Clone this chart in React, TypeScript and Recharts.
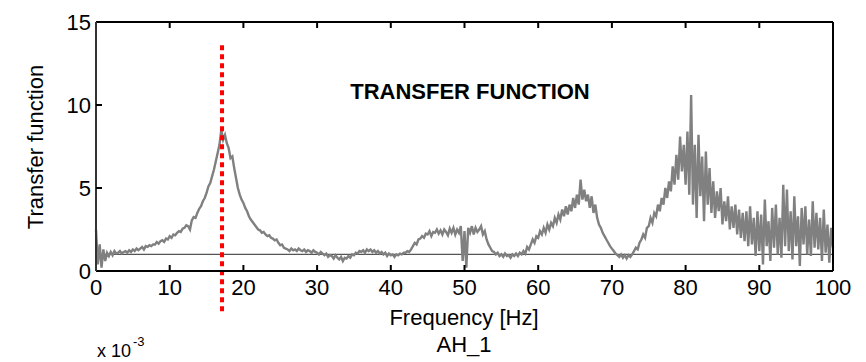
import { LineChart, Line, XAxis, YAxis, ReferenceLine } from "recharts";

const FONT = "'Liberation Sans', Arial, Helvetica, sans-serif";

// transfer function magnitude, one sample every 0.25 Hz from 0 to 100 Hz
const FREQ_STEP = 0.25;
const TF_VALUES = [
  2.5, 0.4, 1.6, 0.2, // 0
  1.3, 0.6, 1.1, 0.9,
  1.15, 0.95, 1.2, 1.05,
  1.1, 1.2, 1.05, 1.15,
  1.2, 1.1, 1.25, 1.15,
  1.3, 1.2, 1.35, 1.25, // 5
  1.35, 1.45, 1.3, 1.5,
  1.45, 1.55, 1.5, 1.6,
  1.6, 1.75, 1.65, 1.8,
  1.85, 1.75, 1.95, 1.9,
  2.1, 2.0, 2.2, 2.15, // 10
  2.3, 2.4, 2.35, 2.55,
  2.6, 2.75, 2.7, 2.5,
  3.05, 3.25, 3.2, 3.5,
  3.75, 3.9, 4.2, 4.4,
  4.7, 5.1, 5.3, 5.7, // 15
  6.1, 6.6, 7.1, 7.6,
  8.5, 7.9, 8.2, 7.7,
  7.4, 6.8, 6.9, 6.2,
  5.6, 5.0, 4.6, 4.3,
  4.1, 3.8, 3.6, 3.3, // 20
  3.1, 2.95, 2.8, 2.65,
  2.5, 2.45, 2.3, 2.35,
  2.2, 2.1, 2.15, 2.0,
  1.95, 1.85, 1.9, 1.7,
  1.55, 1.6, 1.4, 1.35, // 25
  1.3, 1.2, 1.35, 1.25,
  1.3, 1.2, 1.35, 1.25,
  1.2, 1.3, 1.15, 1.25,
  1.2, 1.1, 1.25, 1.15,
  1.1, 1.0, 1.15, 1.05, // 30
  0.95, 1.05, 0.85, 0.95,
  0.9, 0.75, 0.95, 0.8,
  0.7, 0.85, 0.6, 0.8,
  0.75, 0.9, 0.8, 1.0,
  0.95, 1.1, 1.05, 1.2, // 35
  1.15, 1.25, 1.1, 1.3,
  1.2, 1.3, 1.15, 1.25,
  1.1, 1.2, 1.05, 1.15,
  1.0, 1.1, 0.9, 1.05,
  0.95, 1.0, 0.85, 1.0, // 40
  0.95, 1.05, 1.0, 1.1,
  1.1, 1.2, 1.15, 1.3,
  1.5, 1.7, 1.6, 1.9,
  1.95, 2.1, 2.0, 2.25,
  2.2, 2.4, 2.1, 2.35, // 45
  2.3, 2.5, 2.25, 2.45,
  2.2, 2.5, 2.35, 2.15,
  2.55, 2.3, 2.6, 2.2,
  2.5, 2.3, 2.7, 0.6,
  2.4, 0.2, 2.6, 2.3, // 50
  2.7, 2.2, 2.6, 2.35,
  2.5, 2.7, 2.2, 2.4,
  1.9, 1.6, 1.4, 1.2,
  1.15, 1.0, 1.1, 0.9,
  1.0, 0.85, 1.05, 0.9, // 55
  0.95, 0.8, 1.0, 0.9,
  1.05, 0.9, 1.1, 1.0,
  1.2, 1.05, 1.45, 1.3,
  1.6, 1.9, 1.7, 2.1,
  2.0, 2.4, 2.2, 2.6, // 60
  2.3, 2.8, 2.5, 2.9,
  2.7, 3.2, 2.9, 3.4,
  3.1, 3.7, 3.3, 3.9,
  3.4, 4.0, 3.6, 4.4,
  3.8, 4.6, 4.0, 5.5, // 65
  4.3, 4.9, 4.2, 4.6,
  3.8, 4.5, 3.5, 4.0,
  3.2, 2.8, 2.6, 2.3,
  2.1, 1.9, 1.7, 1.5,
  1.35, 1.2, 1.05, 0.95, // 70
  0.85, 1.0, 0.8, 0.95,
  0.75, 0.95, 0.85, 1.0,
  1.2, 1.4, 1.3, 1.7,
  1.9, 2.2, 2.0, 2.6,
  2.7, 3.2, 2.9, 3.5, // 75
  3.3, 4.0, 3.6, 4.4,
  4.0, 5.0, 4.4, 5.4,
  4.8, 6.3, 5.2, 7.0,
  5.5, 8.1, 6.0, 7.6,
  5.2, 8.4, 4.6, 10.6, // 80
  4.0, 7.6, 3.2, 8.2,
  4.5, 6.9, 3.0, 7.2,
  4.0, 6.2, 3.5, 5.4,
  3.2, 4.8, 3.6, 5.0,
  2.8, 4.2, 3.0, 4.5, // 85
  2.5, 3.9, 2.6, 4.0,
  2.2, 3.7, 2.0, 3.5,
  1.8, 3.6, 1.5, 3.9,
  1.6, 3.2, 0.9, 3.6,
  1.2, 3.4, 0.4, 4.3, // 90
  1.5, 3.0, 0.6, 3.8,
  1.4, 4.0, 1.0, 3.2,
  0.8, 5.2, 1.5, 4.9,
  1.2, 3.6, 0.7, 4.5,
  1.5, 3.3, 0.3, 3.8, // 95
  1.6, 3.9, 1.0, 3.1,
  0.9, 4.2, 1.4, 3.5,
  1.3, 3.2, 0.6, 3.7,
  1.1, 2.8, 0.5, 2.6,
  1.4, // 100
];

const X_TICKS = [0, 10, 20, 30, 40, 50, 60, 70, 80, 90, 100];
const Y_TICKS = [0, 5, 10, 15];
const PEAK_FREQ = 17.1;
const PEAK_LINE_Y = [13.6, -2.5];
const REF_LEVEL = 1;

const data = TF_VALUES.map((v, i) => ({ f: i * FREQ_STEP, tf: v }));

const inner = (v: number, lo: number, hi: number) => v > lo && v < hi;

const BottomTick = (props: any) => {
  const { x, y, payload } = props;
  return (
    <g>
      {inner(payload.value, 0, 100) && (
        <line x1={x} x2={x} y1={y} y2={y - 6} stroke="#000" strokeWidth={2} />
      )}
      <text x={x} y={y + 24} textAnchor="middle" fontSize={22} fontFamily={FONT} fill="#000">
        {payload.value}
      </text>
    </g>
  );
};

const TopTick = (props: any) => {
  const { x, y, payload } = props;
  if (!inner(payload.value, 0, 100)) return <g />;
  return <line x1={x} x2={x} y1={y} y2={y + 6} stroke="#000" strokeWidth={2} />;
};

const LeftTick = (props: any) => {
  const { x, y, payload } = props;
  return (
    <g>
      {inner(payload.value, 0, 15) && (
        <line x1={x} x2={x + 6} y1={y} y2={y} stroke="#000" strokeWidth={2} />
      )}
      <text x={x - 5} y={y + 8} textAnchor="end" fontSize={22} fontFamily={FONT} fill="#000">
        {payload.value}
      </text>
    </g>
  );
};

const RightTick = (props: any) => {
  const { x, y, payload } = props;
  if (!inner(payload.value, 0, 15)) return <g />;
  return <line x1={x} x2={x - 6} y1={y} y2={y} stroke="#000" strokeWidth={2} />;
};

export default function App() {
  return (
    <div style={{ position: "absolute", left: 0, top: 0, width: 866, height: 362, background: "#fff" }}>
      <LineChart
        width={866}
        height={362}
        data={data}
        margin={{ top: 21, right: 32, bottom: 61, left: 36 }}
      >
        <XAxis
          dataKey="f"
          type="number"
          domain={[0, 100]}
          ticks={X_TICKS}
          interval={0}
          tickSize={0}
          tickMargin={0}
          tick={BottomTick}
          tickLine={false}
          axisLine={{ stroke: "#000", strokeWidth: 2 }}
          height={30}
        />
        <XAxis
          xAxisId="top"
          orientation="top"
          dataKey="f"
          type="number"
          domain={[0, 100]}
          ticks={X_TICKS}
          interval={0}
          tickSize={0}
          tickMargin={0}
          tick={TopTick}
          tickLine={false}
          axisLine={{ stroke: "#000", strokeWidth: 2 }}
          height={1}
        />
        <YAxis
          type="number"
          domain={[0, 15]}
          ticks={Y_TICKS}
          interval={0}
          tickSize={0}
          tickMargin={0}
          tick={LeftTick}
          tickLine={false}
          axisLine={{ stroke: "#333", strokeWidth: 2 }}
          width={60}
        />
        <YAxis
          yAxisId="right"
          orientation="right"
          type="number"
          domain={[0, 15]}
          ticks={Y_TICKS}
          interval={0}
          tickSize={0}
          tickMargin={0}
          tick={RightTick}
          tickLine={false}
          axisLine={{ stroke: "#000", strokeWidth: 2 }}
          width={1}
        />
        <ReferenceLine y={REF_LEVEL} stroke="#555" strokeWidth={1.2} />
        <Line
          type="linear"
          dataKey="tf"
          stroke="#808080"
          strokeWidth={2.4}
          dot={false}
          isAnimationActive={false}
        />
        <ReferenceLine
          segment={[
            { x: PEAK_FREQ, y: PEAK_LINE_Y[0] },
            { x: PEAK_FREQ, y: PEAK_LINE_Y[1] },
          ]}
          ifOverflow="visible"
          stroke="#ff0000"
          strokeWidth={4}
          strokeDasharray="5 4"
        />
      </LineChart>
      <svg
        width={866}
        height={362}
        style={{ position: "absolute", left: 0, top: 0, pointerEvents: "none" }}
        fontFamily={FONT}
      >
        <text x={470} y={99} textAnchor="middle" fontSize={22} fontWeight="bold" fill="#000">
          TRANSFER FUNCTION
        </text>
        <text transform="translate(43,147) rotate(-90)" textAnchor="middle" fontSize={22} fill="#000">
          Transfer function
        </text>
        <text x={464} y={325} textAnchor="middle" fontSize={22} fill="#000">
          Frequency [Hz]
        </text>
        <text x={464} y={352} textAnchor="middle" fontSize={22} fill="#000">
          AH_1
        </text>
        <text x={97} y={357} fontSize={18} fill="#000">
          x 10
        </text>
        <text x={133} y={346} fontSize={13} fill="#000">
          -3
        </text>
      </svg>
    </div>
  );
}
